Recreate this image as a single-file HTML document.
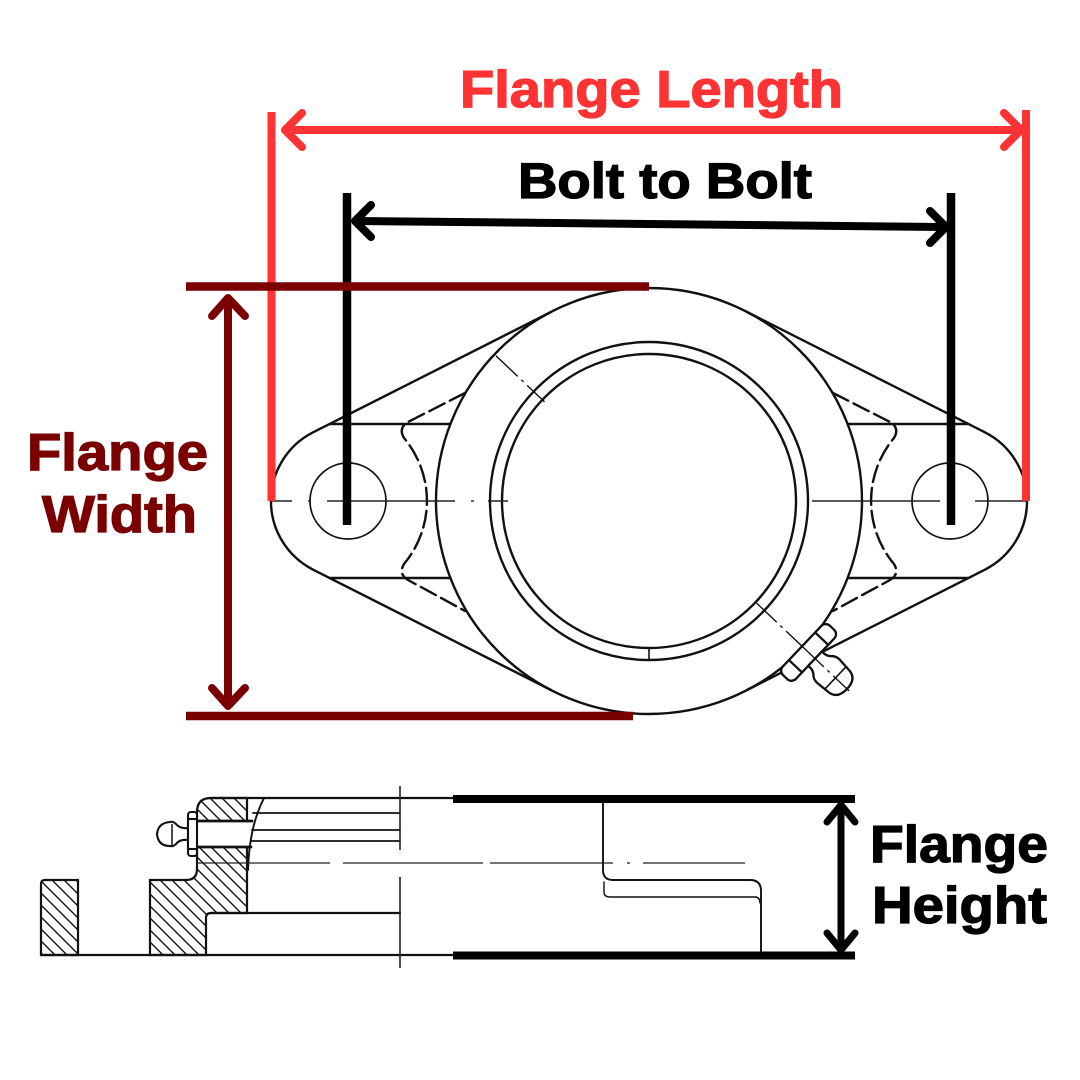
<!DOCTYPE html>
<html>
<head>
<meta charset="utf-8">
<style>
html,body{margin:0;padding:0;background:#fff;}
svg{display:block;}
text{font-family:"Liberation Sans",Arial,sans-serif;font-weight:bold;}
</style>
</head>
<body>
<svg width="1080" height="1080" viewBox="0 0 1080 1080" xmlns="http://www.w3.org/2000/svg">
<defs>
<pattern id="h" patternUnits="userSpaceOnUse" width="12" height="12">
<path d="M-3,-3 L15,15 M-3,9 L3,15 M9,-3 L15,3" stroke="#111" stroke-width="1.4"/>
</pattern>
</defs>
<rect width="1080" height="1080" fill="#fff"/>

<!-- ============ TOP VIEW DRAWING ============ -->
<g fill="none" stroke="#111" stroke-width="2.4" stroke-linecap="round">
  <path d="M551,312 L312.6,432.6 A77,77 0 0 0 312.6,569.4 L551,690"/>
  <path d="M747,312 L985.4,432.6 A77,77 0 0 1 985.4,569.4 L747,690"/>
  <circle cx="649" cy="501" r="213"/>
  <circle cx="649" cy="501" r="159"/>
  <circle cx="649" cy="501" r="147"/>
  <line x1="649" y1="648" x2="649" y2="660" stroke-width="1.6"/>
  <line x1="330" y1="424" x2="450" y2="424"/>
  <line x1="330" y1="578" x2="450" y2="578"/>
  <line x1="848" y1="424" x2="968" y2="424"/>
  <line x1="848" y1="578" x2="968" y2="578"/>
  <circle cx="348" cy="501" r="38" stroke-width="1.7"/>
  <circle cx="950" cy="501" r="38" stroke-width="1.7"/>
  <path d="M465,393 L408,422 Q398,428 404,438 A98,98 0 0 1 404,564 Q398,574 408,580 L465,611" stroke-dasharray="17,6"/>
  <path d="M833,393 L890,422 Q900,428 894,438 A98,98 0 0 0 894,564 Q900,574 890,580 L833,611" stroke-dasharray="17,6"/>
</g>
<g stroke="#222" stroke-width="1.4" fill="none">
  <line x1="270" y1="501" x2="292" y2="501"/>
  <line x1="308" y1="501" x2="311" y2="501"/>
  <line x1="327" y1="501" x2="455" y2="501"/>
  <line x1="471" y1="501" x2="474" y2="501"/>
  <line x1="488" y1="501" x2="508" y2="501"/>
  <line x1="812" y1="501" x2="940" y2="501"/>
  <line x1="975" y1="501" x2="1026" y2="501"/>
</g>
<g transform="translate(649,501) rotate(43.5)" stroke="#111" stroke-width="2.3" fill="#fff">
  <line x1="-211" y1="0" x2="-144" y2="0" stroke-width="1.4" stroke-dasharray="30,5,3,5" fill="none"/>
  <line x1="146" y1="0" x2="211" y2="0" stroke-width="1.4" stroke-dasharray="30,5,3,5" fill="none"/>
  <rect x="211" y="-34" width="18" height="68" rx="6"/>
  <line x1="211" y1="-19" x2="229" y2="-19"/>
  <line x1="211" y1="19" x2="229" y2="19"/>
  <path d="M229,-10 Q236,-9 240,-14 Q244,-17 250,-16 L262,-15 Q273,-14 273,0 Q273,14 262,15 L250,16 Q244,17 240,14 Q236,9 229,10 Z"/>
  <line x1="257" y1="-15" x2="257" y2="15" stroke-width="1.6"/>
  <line x1="211" y1="0" x2="276" y2="0" stroke-width="1.3" stroke-dasharray="30,5,3,5" fill="none"/>
</g>

<!-- ============ BOTTOM SECTION VIEW ============ -->
<path d="M41,884 Q41,880 45,880 L78,880 L78,955 L41,955 Z" fill="url(#h)" stroke="#111" stroke-width="2.2"/>
<path d="M150,880 L186,880 Q197,880 197,869 L197,812 Q197,798 211,798 L247,798 L247,913 L211,913 Q206,913 206,918 L206,955 L150,955 Z" fill="url(#h)" stroke="#111" stroke-width="2.2"/>
<rect x="197" y="821" width="52" height="26" fill="#fff"/>
<g fill="none" stroke="#111" stroke-linecap="round">
  <line x1="197" y1="821" x2="252" y2="821" stroke-width="2.8"/>
  <line x1="197" y1="847" x2="251" y2="847" stroke-width="2.8"/>
  <line x1="41" y1="955" x2="453" y2="955" stroke-width="2.2"/>
  <line x1="211" y1="798" x2="453" y2="798" stroke-width="2.2"/>
  <line x1="211" y1="913" x2="400" y2="913" stroke-width="2.2"/>
  <line x1="253" y1="813" x2="400" y2="813" stroke-width="1.8"/>
  <line x1="252" y1="830" x2="400" y2="830" stroke-width="1.8"/>
  <line x1="251" y1="841" x2="400" y2="841" stroke-width="1.8"/>
  <path d="M264,798 C254,818 249,840 248,870" stroke-width="1.9"/>
  <path d="M603,803 L603,870 Q603,880 613,880 L750,880 Q761,880 761,891 L761,952" stroke-width="1.9"/>
  <path d="M604,882 L604,892 Q604,897 610,897 L755,897 Q760,897 760,903" stroke-width="1.4"/>
</g>
<g stroke="#222" stroke-width="1.3">
  <line x1="197" y1="863" x2="330" y2="863"/>
  <line x1="343" y1="863" x2="483" y2="863"/>
  <line x1="490" y1="863" x2="613" y2="863"/>
  <line x1="627" y1="863" x2="630" y2="863"/>
  <line x1="643" y1="863" x2="745" y2="863"/>
  <line x1="400" y1="786" x2="400" y2="850" stroke-width="1.6"/>
  <line x1="400" y1="877" x2="400" y2="968" stroke-width="1.6"/>
</g>
<g stroke="#111" stroke-width="2.1" fill="#fff">
  <path d="M188,828 Q180,829 176,824 Q173,821 170,822 Q158,823 157,834 Q158,846 170,846 Q173,847 176,844 Q180,839 188,840 Z"/>
  <line x1="172" y1="824" x2="172" y2="845" stroke-width="1.5"/>
  <rect x="188" y="812" width="9" height="44" rx="3"/>
  <line x1="188" y1="819" x2="197" y2="819"/>
  <line x1="188" y1="849" x2="197" y2="849"/>
</g>

<!-- ============ ANNOTATIONS ============ -->
<g stroke="#ff3333" stroke-width="8" stroke-linecap="round" stroke-linejoin="round" fill="none">
  <line x1="271.5" y1="112" x2="271.5" y2="501" stroke-linecap="butt"/>
  <line x1="1026" y1="110" x2="1026" y2="501" stroke-linecap="butt"/>
  <line x1="287" y1="130" x2="1019" y2="130"/>
  <polyline points="302,113 285,130 302,147"/>
  <polyline points="1004,113 1021,130 1004,147"/>
</g>
<text x="460" y="107" font-size="52" fill="#ff3333" stroke="#ff3333" stroke-width="1.3" textLength="383" lengthAdjust="spacingAndGlyphs">Flange Length</text>

<g stroke="#000" stroke-width="8" stroke-linecap="round" stroke-linejoin="round" fill="none">
  <line x1="347" y1="193" x2="347" y2="525" stroke-width="8.5" stroke-linecap="butt"/>
  <line x1="951" y1="193" x2="951" y2="525" stroke-width="8.5" stroke-linecap="butt"/>
  <line x1="357" y1="221" x2="944" y2="227"/>
  <polyline points="371,205 355,221 371,237"/>
  <polyline points="930,211 946,227 930,243"/>
</g>
<text x="518" y="198" font-size="50" fill="#000" stroke="#000" stroke-width="1.3" textLength="294" lengthAdjust="spacingAndGlyphs">Bolt to Bolt</text>

<g stroke="#7a0000" stroke-width="8.5" stroke-linecap="round" stroke-linejoin="round" fill="none">
  <line x1="186" y1="286.5" x2="649" y2="286.5" stroke-linecap="butt"/>
  <line x1="186" y1="716" x2="633" y2="716" stroke-linecap="butt"/>
  <line x1="228" y1="299" x2="228" y2="705" stroke-width="8"/>
  <polyline points="212,316 228,298 245,316" stroke-width="8"/>
  <polyline points="212,688 228,706 245,688" stroke-width="8"/>
</g>
<text x="27" y="470" font-size="52" fill="#7a0000" stroke="#7a0000" stroke-width="1.3" textLength="181" lengthAdjust="spacingAndGlyphs">Flange</text>
<text x="42" y="532" font-size="52" fill="#7a0000" stroke="#7a0000" stroke-width="1.3" textLength="155" lengthAdjust="spacingAndGlyphs">Width</text>

<g stroke="#000" stroke-width="8" stroke-linecap="round" stroke-linejoin="round" fill="none">
  <line x1="453" y1="799" x2="855" y2="799" stroke-linecap="butt"/>
  <line x1="453" y1="955.5" x2="855" y2="955.5" stroke-linecap="butt"/>
  <line x1="841" y1="806" x2="841" y2="949" stroke-width="7"/>
  <polyline points="827,822 841,805 855,822" stroke-width="7"/>
  <polyline points="827,933 841,950 855,933" stroke-width="7"/>
</g>
<text x="870" y="862" font-size="52" fill="#000" stroke="#000" stroke-width="1.3" textLength="178" lengthAdjust="spacingAndGlyphs">Flange</text>
<text x="872" y="923" font-size="52" fill="#000" stroke="#000" stroke-width="1.3" textLength="175" lengthAdjust="spacingAndGlyphs">Height</text>
</svg>
</body>
</html>
